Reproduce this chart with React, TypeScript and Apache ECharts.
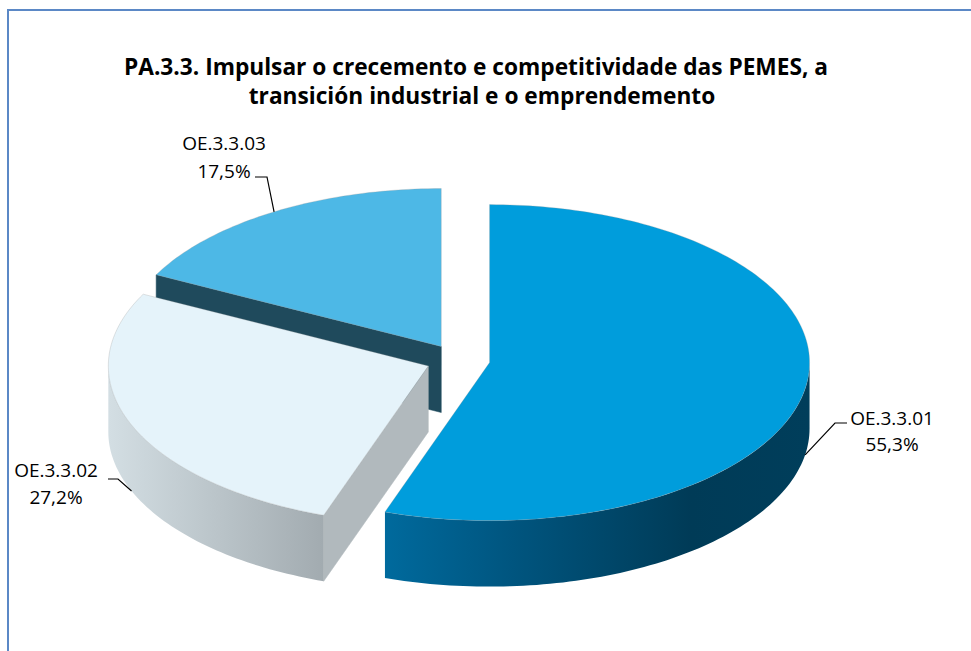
import React, { useEffect, useRef } from 'react';
import * as echarts from 'echarts';

// ---- data ----
const categories = ['OE.3.3.01', 'OE.3.3.02', 'OE.3.3.03'];
const values = [55.3, 27.2, 17.5];
const percentLabels = ['55,3%', '27,2%', '17,5%'];
const titleLines = [
  'PA.3.3. Impulsar o crecemento e competitividade das PEMES, a',
  'transición industrial e o emprendemento',
];

// ---- layout / style ----
const CX = 458;
const CY = 360;
const RX = 320;
const RY = 158;
const DEPTH = 66;
const EXPLODE = 0.1;
const FONT = '"Open Sans", "Noto Sans", sans-serif';

const topColors = ['#009ddc', '#e5f3fa', '#4db8e6'];
const wallStops: [number, string][][] = [
  [[0, '#006a9d'], [0.3, '#00557f'], [0.72, '#003b57'], [1, '#003e5b']],
  [[0, '#d3dee3'], [1, '#a2abb0']],
  [[0, '#2a6a85'], [1, '#1f4a5c']],
];
const radialColors = ['#004a6c', '#b1b9bd', '#1f4a5c'];
const zOrder = [3, 2, 1];
const labelCenters = [[892, 431], [56, 483], [224, 157]];
const labelLineHeights = [26, 27, 28];
const leaderElbows = [[835, 423], [118, 479], [267, 177]];
const leaderTails = [[847, 423], [108, 479], [255, 177]];

const rad = (d: number) => (d * Math.PI) / 180;

function renderItem(params: any, api: any) {
  const i = params.dataIndex;
  const v = api.value(0);
  const before = api.value(1);
  const total = api.value(2);
  const a0 = (before / total) * 360;
  const a1 = ((before + v) / total) * 360;
  const mid = (a0 + a1) / 2;
  const cx = CX + EXPLODE * RX * Math.sin(rad(mid));
  const cy = CY - EXPLODE * RY * Math.cos(rad(mid));
  const pt = (a: number, dy = 0) => [cx + RX * Math.sin(rad(a)), cy - RY * Math.cos(rad(a)) + dy];
  const arc = (s: number, e: number, dy: number) => {
    const n = Math.max(2, Math.ceil(Math.abs(e - s) / 1.2));
    const out: number[][] = [];
    for (let k = 0; k <= n; k++) out.push(pt(s + ((e - s) * k) / n, dy));
    return out;
  };
  const zb = zOrder[i] * 10;
  const children: any[] = [];

  const radialFace = (a: number) => ({
    type: 'polygon',
    z2: zb + 1,
    shape: { points: [[cx, cy], pt(a), pt(a, DEPTH), [cx, cy + DEPTH]] },
    style: { fill: radialColors[i], stroke: radialColors[i], lineWidth: 0.5 },
  });
  if (Math.cos(rad(a0 - 90)) < -1e-6) children.push(radialFace(a0));
  if (Math.cos(rad(a1 + 90)) < -1e-6) children.push(radialFace(a1));

  const s = Math.max(a0, 90);
  const e = Math.min(a1, 270);
  if (e > s) {
    children.push({
      type: 'polygon',
      z2: zb + 2,
      shape: { points: [...arc(s, e, 0), ...arc(e, s, DEPTH)] },
      style: {
        fill: new echarts.graphic.LinearGradient(
          0, 0, 1, 0,
          wallStops[i].map(([o, c]) => ({ offset: o, color: c }))
        ),
      },
    });
  }

  children.push({
    type: 'polygon',
    z2: zb + 3,
    shape: { points: [[cx, cy], ...arc(a0, a1, 0)] },
    style: { fill: topColors[i], stroke: 'rgba(150,150,150,0.45)', lineWidth: 0.6 },
  });

  const front = Math.cos(rad(mid)) < 0;
  const end = pt(mid, front ? DEPTH : 0);
  children.push({
    type: 'polyline',
    z2: 100,
    shape: { points: [end, leaderElbows[i], leaderTails[i]] },
    style: { stroke: '#000', lineWidth: 1.2, fill: null },
  });
  children.push({
    type: 'text',
    z2: 101,
    x: labelCenters[i][0],
    y: labelCenters[i][1],
    style: {
      text: categories[i] + '\n' + percentLabels[i],
      align: 'center',
      verticalAlign: 'middle',
      textAlign: 'center',
      textVerticalAlign: 'middle',
      lineHeight: labelLineHeights[i],
      fontSize: 19,
      fontFamily: FONT,
      fill: '#000',
    },
  });
  return { type: 'group', children };
}

export default function App() {
  const ref = useRef<HTMLDivElement>(null);
  useEffect(() => {
    if (!ref.current) return;
    const chart = echarts.init(ref.current, undefined, { renderer: 'svg' });
    const total = values.reduce((a, b) => a + b, 0);
    let acc = 0;
    const data = values.map((v) => {
      const item = [v, acc, total];
      acc += v;
      return item;
    });
    const titleStyle = {
      align: 'center',
      verticalAlign: 'middle',
      textAlign: 'center',
      textVerticalAlign: 'middle',
      fontSize: 22.7,
      fontWeight: 'bold',
      fontFamily: FONT,
      fill: '#000',
    };
    chart.setOption({
      animation: false,
      backgroundColor: '#ffffff',
      graphic: [
        {
          type: 'rect',
          shape: { x: 8, y: 10, width: 1000, height: 700 },
          style: { fill: 'none', stroke: '#5b88c6', lineWidth: 2 },
          z: -1,
        },
        {
          type: 'text',
          x: 476,
          y: 66,
          style: { ...titleStyle, text: titleLines[0] },
        },
        {
          type: 'text',
          x: 482,
          y: 95,
          style: { ...titleStyle, text: titleLines[1] },
        },
      ],
      series: [
        {
          type: 'custom',
          coordinateSystem: 'none',
          renderItem,
          data,
          silent: true,
        },
      ],
    });
    return () => chart.dispose();
  }, []);
  return (
    <div
      ref={ref}
      style={{ position: 'fixed', left: 0, top: 0, width: 971, height: 651 }}
    />
  );
}
